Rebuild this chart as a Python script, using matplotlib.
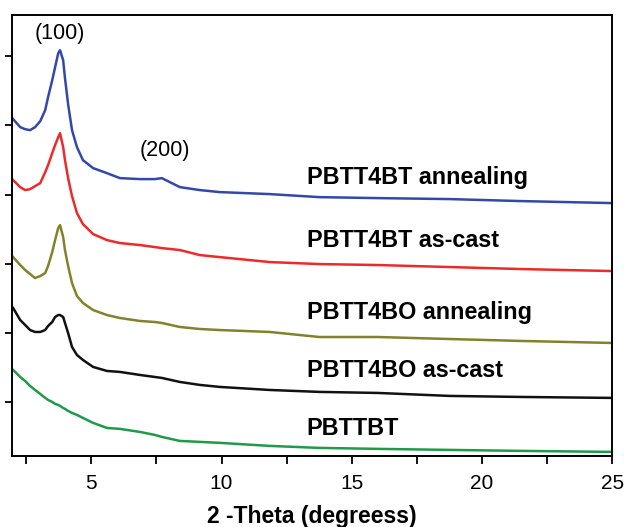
import matplotlib.pyplot as plt
from matplotlib.ticker import MultipleLocator, NullFormatter

plt.rcParams['font.family'] = ['Liberation Sans', 'DejaVu Sans']

# 2-theta positions (deg), shared by all curves
two_theta = [2.00, 2.27, 2.46, 2.65, 2.84, 3.04, 3.23, 3.34, 3.50, 3.61, 3.73,
             3.80, 3.92, 3.99, 4.11, 4.26, 4.45, 4.68, 5.07, 5.60, 6.10,
             6.87, 7.44, 7.71, 8.40, 9.17, 9.93, 11.85, 13.76, 16.0, 18.75,
             21.5, 25.0]

# intensities (arb. units, stacked with offsets as in the figure)
pbtt4bt_ann = [5.090, 4.974, 4.945, 4.931, 4.974, 5.061, 5.220, 5.408, 5.653, 5.841, 6.043,
               6.087, 5.942, 5.682, 5.306, 4.931, 4.685, 4.497, 4.382, 4.309, 4.237,
               4.223, 4.223, 4.237, 4.107, 4.064, 4.035, 4.006, 3.962, 3.948, 3.934,
               3.905, 3.876]
pbtt4bt_cast = [4.208, 4.107, 4.064, 4.078, 4.121, 4.165, 4.324, 4.425, 4.598, 4.714, 4.829,
                4.887, 4.685, 4.497, 4.237, 3.977, 3.731, 3.572, 3.428, 3.341, 3.298,
                3.269, 3.240, 3.225, 3.197, 3.124, 3.095, 3.023, 2.994, 2.980, 2.951,
                2.922, 2.893]
pbtt4bo_ann = [3.095, 2.980, 2.908, 2.850, 2.792, 2.821, 2.864, 2.965, 3.168, 3.341, 3.514,
               3.558, 3.384, 3.197, 2.965, 2.720, 2.532, 2.431, 2.329, 2.257, 2.214,
               2.171, 2.156, 2.142, 2.084, 2.055, 2.040, 2.012, 1.939, 1.939, 1.910,
               1.882, 1.853]
pbtt4bo_cast = [2.358, 2.185, 2.113, 2.040, 2.012, 2.012, 2.040, 2.098, 2.156, 2.228, 2.257,
                2.257, 2.228, 2.142, 1.997, 1.795, 1.679, 1.607, 1.506, 1.448, 1.434,
                1.390, 1.361, 1.347, 1.289, 1.246, 1.217, 1.173, 1.145, 1.130, 1.087,
                1.072, 1.058]
pbttbt = [1.462, 1.361, 1.303, 1.231, 1.173, 1.116, 1.058, 1.029, 1.000, 0.971, 0.957,
          0.942, 0.913, 0.899, 0.870, 0.841, 0.812, 0.769, 0.697, 0.624, 0.610,
          0.566, 0.523, 0.494, 0.436, 0.422, 0.408, 0.364, 0.335, 0.321, 0.306,
          0.292, 0.277]

series = [pbtt4bt_ann, pbtt4bt_cast, pbtt4bo_ann, pbtt4bo_cast, pbttbt]
names = ["PBTT4BT annealing", "PBTT4BT as-cast", "PBTT4BO annealing",
         "PBTT4BO as-cast", "PBTTBT"]
colors = ["#3448aa", "#ec2a2a", "#82822a", "#111111", "#1f9a48"]
label_y = [4.24, 3.33, 2.30, 1.46, 0.62]

fig = plt.figure(figsize=(6.24, 5.27), dpi=100)
ax = fig.add_axes([0.019, 0.135, 0.962, 0.837])

for ys, c in zip(series, colors):
    ax.plot(two_theta, ys, color=c, lw=1.8)

for name, ly in zip(names, label_y):
    ax.text(13.27, ly, name, fontsize=16.8, fontweight='bold', va='center', ha='left')

ax.text(3.8, 6.33, "(100)", fontsize=15.5, ha='center', va='center')
ax.text(7.83, 4.64, "(200)", fontsize=15.5, ha='center', va='center')

ax.set_xlim(1.95, 25)
ax.set_ylim(0.22, 6.6)
ax.xaxis.set_major_locator(MultipleLocator(5))
ax.xaxis.set_minor_locator(MultipleLocator(2.5))
ax.set_yticks([1, 2, 3, 4, 5, 6])
ax.yaxis.set_major_formatter(NullFormatter())
ax.tick_params(axis='x', which='both', direction='out', length=6, width=1.3,
               labelsize=15, pad=7)
ax.tick_params(axis='y', direction='out', length=5, width=1.3)
for s in ax.spines.values():
    s.set_linewidth(1.4)

ax.set_xlabel("2 -Theta (degreess)", fontsize=16.5, fontweight='bold', labelpad=9)

fig.savefig("out.png", dpi=100)
